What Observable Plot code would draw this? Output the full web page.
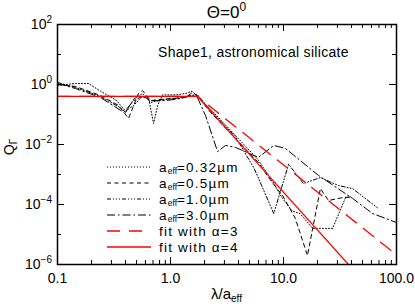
<!DOCTYPE html>
<html><head><meta charset="utf-8">
<script src="https://cdn.jsdelivr.net/npm/d3@7"></script>
<script src="https://cdn.jsdelivr.net/npm/@observablehq/plot@0.6"></script>
<style>
body{margin:0;background:#fff}
svg text{font-family:"Liberation Sans",Arial,Helvetica,sans-serif}
</style>
</head><body><div id="chart"></div>
<script>
// ---- data ----
const lam032 = [0.1, 0.144, 0.188, 0.24, 0.33, 0.4, 0.471, 0.565, 0.64, 0.708, 0.77, 0.85, 1.1, 1.36, 1.55, 1.73, 2.26, 3.76, 6.0, 8.2, 9.8, 12.0, 14.0, 18.1, 27.2, 35.4, 39.2];
const q032   = [0.93, 1.08, 1.08, 0.6, 0.3, 0.13, 0.2, 0.4, 0.35, 0.05, 0.2, 0.45, 0.45, 0.5, 0.6, 0.4, 0.15, 0.02, 3e-3, 5e-4, 1.6e-4, 6e-5, 5e-5, 1.6e-5, 1.6e-5, 1.7e-4, 1.8e-4];

const lam05 = [0.1, 0.144, 0.24, 0.347, 0.425, 0.521, 0.565, 0.665, 0.768, 1.0, 1.36, 1.56, 1.73, 2.26, 3.76, 6.0, 7.7, 9.8, 12.7, 16.3, 21.2, 25.0, 33.3, 40.8];
const q05   = [1.0, 0.86, 0.43, 0.2, 0.074, 0.5, 0.63, 0.29, 0.31, 0.34, 0.37, 0.54, 0.43, 0.117, 0.016, 2.5e-3, 6.3e-4, 2e-4, 3.5e-5, 2e-6, 3.4e-4, 1.36e-4, 1.7e-4, 1.8e-4];

const lam10 = [0.1, 0.144, 0.24, 0.37, 0.4, 0.471, 0.565, 0.665, 0.85, 1.1, 1.5, 1.73, 2.26, 3.76, 5.5, 8.2, 11.1, 15.0, 21.2, 30.6, 40.8, 69.0];
const q10   = [1.17, 0.8, 0.4, 0.158, 0.117, 0.32, 0.5, 0.25, 0.31, 0.34, 0.43, 0.46, 0.136, 0.018, 1.6e-3, 5e-5, 2.2e-3, 5e-4, 7.9e-4, 4.3e-4, 3.4e-4, 7.4e-5];

const lam30 = [0.1, 0.144, 0.24, 0.387, 0.471, 0.565, 0.665, 0.9, 1.22, 1.56, 1.73, 2.04, 2.61, 3.07, 3.76, 6.0, 8.2, 10.4, 20.4, 40.8, 61.4, 100];
const q30   = [1.08, 0.735, 0.37, 0.117, 0.29, 0.4, 0.29, 0.29, 0.34, 0.43, 0.37, 0.093, 5.8e-3, 9.3e-3, 8e-3, 3.7e-3, 9.3e-3, 7.4e-3, 9.3e-4, 1.6e-4, 5e-5, 2.5e-5];

const lamFit3 = [0.1, 1.73, 100];
const qFit3   = [0.4, 0.4, 2.1e-6];
const lamFit4 = [0.1, 1.73, 37.6];
const qFit4   = [0.4, 0.4, 1e-6];

const xTicks = [0.1, 1, 10, 100];
const xTickLabels = ["0.1", "1.0", "10.0", "100.0"];
const xMinorTicks = [0.2,0.3,0.4,0.5,0.6,0.7,0.8,0.9, 2,3,4,5,6,7,8,9, 20,30,40,50,60,70,80,90];
const yTicks = [1e2, 1, 1e-2, 1e-4, 1e-6];
const yTickExps = ["2", "0", "\u22122", "\u22124", "\u22126"];
const yMinorTicks = [1e1, 1e-1, 1e-3, 1e-5];

const seriesSizes = ["0.32", "0.5", "1.0", "3.0"];
const fitAlphas = ["3", "4"];

// ---- styles ----
const dash032 = "1,2";
const dash05 = "4,3.5";
const dash10 = "4,2,1,2,1,2,1,2";
const dash30 = "8,3,1.5,3";
const dashFit3 = "13,9";
const RED = "#ff0000";

const toRows = (xs, ys) => xs.map((x, i) => ({x, y: ys[i]}));

const W = 415, H = 307, mL = 57, mR = 19, mT = 24, mB = 43;
const ph = H - mT - mB, pw = W - mL - mR;

const lineOpts = (dash, stroke = "black", sw = 1) => ({x: "x", y: "y", stroke, strokeWidth: sw, strokeDasharray: dash, clip: true});

const plot = Plot.plot({
  width: W, height: H,
  marginLeft: mL, marginRight: mR, marginTop: mT, marginBottom: mB,
  style: {fontFamily: "Liberation Sans, Arial, sans-serif", fontSize: "14px", background: "white", color: "black"},
  x: {type: "log", domain: [0.1, 100], axis: null},
  y: {type: "log", domain: [1e-6, 100], axis: null},
  marks: [
    Plot.line(toRows(lam032, q032), lineOpts(dash032)),
    Plot.line(toRows(lam05, q05), lineOpts(dash05)),
    Plot.line(toRows(lam10, q10), lineOpts(dash10)),
    Plot.line(toRows(lam30, q30), lineOpts(dash30)),
    Plot.line(toRows(lamFit3, qFit3), lineOpts(dashFit3, RED, 1.3)),
    Plot.line(toRows(lamFit4, qFit4), lineOpts(null, RED, 1.3)),
    // inward ticks
    Plot.tickX(xTicks, {x: d => d, insetTop: ph - 7, stroke: "black"}),
    Plot.tickX(xTicks, {x: d => d, insetBottom: ph - 7, stroke: "black"}),
    Plot.tickX(xMinorTicks, {x: d => d, insetTop: ph - 4, stroke: "black"}),
    Plot.tickX(xMinorTicks, {x: d => d, insetBottom: ph - 4, stroke: "black"}),
    Plot.tickY(yTicks, {y: d => d, insetRight: pw - 7, stroke: "black"}),
    Plot.tickY(yTicks, {y: d => d, insetLeft: pw - 7, stroke: "black"}),
    Plot.tickY(yMinorTicks, {y: d => d, insetRight: pw - 4, stroke: "black"}),
    Plot.tickY(yMinorTicks, {y: d => d, insetLeft: pw - 4, stroke: "black"}),
    Plot.frame({stroke: "black", strokeWidth: 1.5}),
    Plot.text(xTicks, {x: d => d, frameAnchor: "bottom", lineAnchor: "top", dy: 9, text: (d, i) => xTickLabels[i], fontSize: 14, fill: "black"})
  ]
});

document.getElementById("chart").appendChild(plot);
const svg = d3.select(plot);
const ys = plot.scale("y");

// y tick labels with superscripts
yTicks.forEach((v, i) => {
  const t = svg.append("text").attr("x", 52).attr("y", ys.apply(v) + 5)
    .attr("text-anchor", "end").attr("font-size", 14).attr("fill", "black");
  t.append("tspan").text("10");
  t.append("tspan").attr("dy", -6).attr("font-size", 10).text(yTickExps[i]);
});

// title
{
  const t = svg.append("text").attr("x", (mL + W - mR) / 2).attr("y", 18)
    .attr("text-anchor", "middle").attr("font-size", 17).attr("fill", "black");
  t.append("tspan").text("\u0398=0");
  t.append("tspan").attr("dy", -7).attr("font-size", 12).text("0");
}
// annotation
svg.append("text").attr("x", 158).attr("y", 57).attr("font-size", 14).attr("text-anchor", "start")
  .attr("letter-spacing", 0.3).attr("fill", "black").text("Shape1, astronomical silicate");

// x label
{
  const t = svg.append("text").attr("x", (mL + W - mR) / 2).attr("y", 299)
    .attr("text-anchor", "middle").attr("font-size", 15).attr("fill", "black");
  t.append("tspan").text("\u03bb/a");
  t.append("tspan").attr("dy", 3).attr("font-size", 10).text("eff");
}
// y label
{
  const t = svg.append("text").attr("transform", "translate(14,147) rotate(-90)")
    .attr("text-anchor", "middle").attr("font-size", 14).attr("fill", "black");
  t.append("tspan").text("Q");
  t.append("tspan").attr("dy", 3).attr("font-size", 10).text("\u0393");
}

// legend
const legendY = [167, 183, 199, 215, 231, 247];
const legendDash = [dash032, dash05, dash10, dash30, dashFit3, null];
const legendColor = ["black", "black", "black", "black", RED, RED];
const lg = svg.append("g");
legendY.forEach((y, i) => {
  lg.append("line").attr("x1", 107).attr("x2", 151).attr("y1", y).attr("y2", y)
    .attr("stroke", legendColor[i]).attr("stroke-width", i >= 4 ? 1.3 : 1)
    .attr("stroke-dasharray", legendDash[i]);
  const t = lg.append("text").attr("x", 159).attr("y", y + 4.5).attr("font-size", 13.5)
    .attr("text-anchor", "start").attr("letter-spacing", 1.2).attr("fill", "black");
  if (i < 4) {
    t.append("tspan").text("a");
    t.append("tspan").attr("dy", 2.5).attr("font-size", 8.5).attr("letter-spacing", 0).text("eff");
    t.append("tspan").attr("dy", -2.5).text("=" + seriesSizes[i] + "\u00b5m");
  } else {
    t.text("fit with \u03b1=" + fitAlphas[i - 4]);
  }
});
</script>
</body></html>
